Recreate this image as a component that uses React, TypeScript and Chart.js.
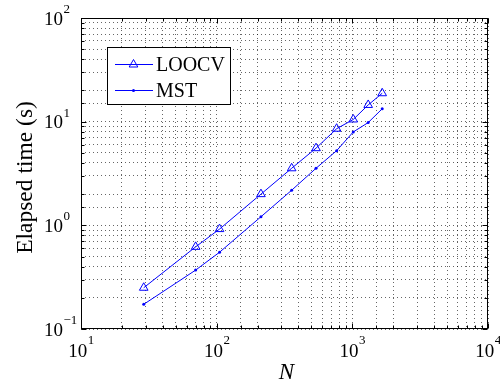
import React, { useEffect, useRef } from 'react';
import { Chart, registerables } from 'chart.js';

Chart.register(...registerables);

// ---- data ----
const nValues = [29, 70, 105, 212, 357, 540, 766, 1016, 1309, 1660];
const loocvTimes = [0.25, 0.62, 0.92, 2.0, 3.55, 5.55, 8.55, 10.5, 14.5, 18.8];
const mstTimes = [0.173, 0.37, 0.55, 1.21, 2.18, 3.55, 5.25, 7.96, 9.8, 13.3];
const seriesNames = ['LOOCV', 'MST'];
const xTickExponents = [1, 2, 3, 4];
const yTickExponents = [-1, 0, 1, 2];
const xTitle = 'N';
const yTitle = 'Elapsed time (s)';

const FONT = '"Liberation Serif", "Times New Roman", serif';
const BLUE = '#0000ff';

const isMajor = (v: number) => {
  const l = Math.log10(v);
  return Math.abs(l - Math.round(l)) < 1e-6;
};

const expText = (e: number) => (e < 0 ? '\u2212' + Math.abs(e) : String(e));

const matlabPlugin = {
  id: 'matlabDecor',
  afterDraw(chart: any) {
    const { ctx, chartArea: a } = chart;
    const xs = chart.scales.x;
    const ys = chart.scales.y;
    const L = Math.round(a.left) + 0.5;
    const R = Math.round(a.right) - 0.5;
    const T = Math.round(a.top) + 0.5;
    const B = Math.round(a.bottom) - 0.5;
    ctx.save();
    ctx.strokeStyle = '#000';
    ctx.lineWidth = 1;
    ctx.setLineDash([]);
    // box
    ctx.strokeRect(L, T, R - L, B - T);
    // tick marks (inside, all four sides)
    ctx.beginPath();
    for (const t of xs.ticks) {
      const px = Math.round(xs.getPixelForValue(t.value)) + 0.5;
      const len = isMajor(t.value) ? 5 : 3;
      ctx.moveTo(px, B);
      ctx.lineTo(px, B - len);
      ctx.moveTo(px, T);
      ctx.lineTo(px, T + len);
    }
    for (const t of ys.ticks) {
      const py = Math.round(ys.getPixelForValue(t.value)) + 0.5;
      const len = isMajor(t.value) ? 5 : 3;
      ctx.moveTo(L, py);
      ctx.lineTo(L + len, py);
      ctx.moveTo(R, py);
      ctx.lineTo(R - len, py);
    }
    ctx.stroke();

    // tick labels with superscripts
    ctx.fillStyle = '#000';
    ctx.textBaseline = 'alphabetic';
    ctx.textAlign = 'left';
    const mainFont = '19px ' + FONT;
    const supFont = '13px ' + FONT;
    for (const e of xTickExponents) {
      const px = xs.getPixelForValue(Math.pow(10, e));
      ctx.font = mainFont;
      const w1 = ctx.measureText('10').width;
      ctx.font = supFont;
      const w2 = ctx.measureText(expText(e)).width;
      const start = px - (w1 + w2) / 2;
      ctx.font = mainFont;
      ctx.fillText('10', start, a.bottom + 28);
      ctx.font = supFont;
      ctx.fillText(expText(e), start + w1 + 0.5, a.bottom + 14.5);
    }
    for (const e of yTickExponents) {
      const py = ys.getPixelForValue(Math.pow(10, e));
      ctx.font = mainFont;
      const w1 = ctx.measureText('10').width;
      ctx.fillText('10', 44, py + 6.5);
      ctx.font = supFont;
      ctx.fillText(expText(e), 44 + w1 + 0.5, py - 5);
    }

    // axis titles
    ctx.font = 'italic 23px ' + FONT;
    ctx.textAlign = 'center';
    ctx.fillText(xTitle, (a.left + a.right) / 2 + 2, 379);
    ctx.save();
    ctx.translate(32, (a.top + a.bottom) / 2 + 4);
    ctx.rotate(-Math.PI / 2);
    ctx.font = '23.5px ' + FONT;
    ctx.fillText(yTitle, 0, 0);
    ctx.restore();

    // legend
    const bx = 107.5, by = 47.5, bw = 123, bh = 57;
    ctx.fillStyle = '#fff';
    ctx.fillRect(bx, by, bw, bh);
    ctx.strokeStyle = '#000';
    ctx.lineWidth = 1;
    ctx.strokeRect(bx, by, bw, bh);
    const rows = [64, 90];
    rows.forEach((ry, i) => {
      ctx.strokeStyle = BLUE;
      ctx.beginPath();
      ctx.moveTo(115, ry + 0.5);
      ctx.lineTo(153, ry + 0.5);
      ctx.stroke();
      const cx = 133.5, cy = ry + 0.5;
      if (i === 0) {
        const r = 5;
        ctx.beginPath();
        ctx.moveTo(cx, cy - r);
        ctx.lineTo(cx + r * 0.866, cy + r * 0.5);
        ctx.lineTo(cx - r * 0.866, cy + r * 0.5);
        ctx.closePath();
        ctx.stroke();
      } else {
        ctx.fillStyle = BLUE;
        ctx.beginPath();
        ctx.arc(cx, cy, 1.5, 0, Math.PI * 2);
        ctx.fill();
      }
      ctx.fillStyle = '#000';
      ctx.font = '20px ' + FONT;
      ctx.textAlign = 'left';
      ctx.fillText(seriesNames[i], 156, ry + 7);
    });
    ctx.restore();
  },
};

export default function App() {
  const ref = useRef<HTMLCanvasElement | null>(null);
  useEffect(() => {
    if (!ref.current) return;
    const gridCommon = {
      display: true,
      drawTicks: false,
      color: 'rgba(0,0,0,0.6)',
      lineWidth: 1,
    };
    const chart = new Chart(ref.current, {
      type: 'line',
      data: {
        datasets: [
          {
            label: seriesNames[0],
            data: nValues.map((x, i) => ({ x, y: loocvTimes[i] })),
            borderColor: BLUE,
            borderWidth: 1,
            backgroundColor: 'rgba(0,0,0,0)',
            pointStyle: 'triangle',
            pointRadius: 5,
            pointBorderWidth: 1,
            pointBorderColor: BLUE,
            pointBackgroundColor: 'rgba(0,0,0,0)',
            tension: 0,
          },
          {
            label: seriesNames[1],
            data: nValues.map((x, i) => ({ x, y: mstTimes[i] })),
            borderColor: BLUE,
            borderWidth: 1,
            backgroundColor: BLUE,
            pointStyle: 'circle',
            pointRadius: 1.5,
            pointBorderWidth: 0,
            pointBackgroundColor: BLUE,
            tension: 0,
          },
        ],
      },
      options: {
        responsive: false,
        animation: false,
        devicePixelRatio: 1,
        layout: { padding: { top: 18, right: 12, left: 0, bottom: 0 } },
        plugins: { legend: { display: false }, tooltip: { enabled: false } },
        scales: {
          x: {
            type: 'logarithmic',
            min: 10,
            max: 10000,
            grid: gridCommon,
            border: { display: false, dash: [1, 3] },
            ticks: { display: false, autoSkip: false },
            afterFit: (s: any) => {
              s.height = 54;
            },
          },
          y: {
            type: 'logarithmic',
            min: 0.1,
            max: 100,
            grid: gridCommon,
            border: { display: false, dash: [1, 3] },
            ticks: { display: false, autoSkip: false },
            afterFit: (s: any) => {
              s.width = 81;
            },
          },
        },
      } as any,
      plugins: [matlabPlugin],
    });
    return () => chart.destroy();
  }, []);
  return (
    <div style={{ position: 'absolute', left: 0, top: 0, width: 500, height: 383, background: '#fff' }}>
      <canvas ref={ref} width={500} height={383} style={{ display: 'block' }} />
    </div>
  );
}
